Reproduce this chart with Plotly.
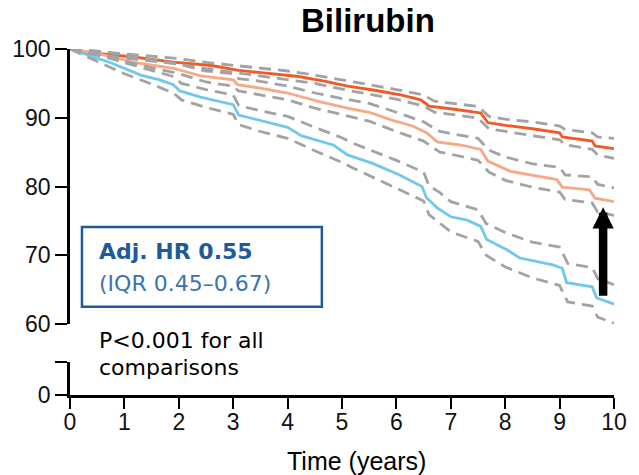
import plotly.graph_objects as go

# ---- data ----
t_high = [0, 0.3, 0.7, 1.2, 1.9, 2.6, 3.1, 3.6, 4.2, 4.7, 5.1, 5.6, 6.1, 6.45, 6.6, 7.1, 7.55, 7.68, 8.0, 8.5, 9.0, 9.05, 9.6, 9.65, 10]
s_high = [100, 99.5, 99.2, 98.8, 98.1, 97.6, 96.9, 96.5, 96.0, 95.3, 94.6, 94.0, 93.3, 92.6, 91.7, 91.2, 90.7, 89.3, 88.9, 88.4, 87.8, 87.2, 86.6, 85.9, 85.5]

t_mid = [0, 0.4, 0.8, 1.15, 1.9, 2.4, 3.0, 3.08, 3.5, 4.0, 4.6, 5.1, 5.5, 5.9, 6.3, 6.56, 6.75, 7.2, 7.55, 7.68, 8.1, 8.5, 8.95, 9.05, 9.55, 9.65, 10]
s_mid = [100, 99.5, 98.8, 98.1, 97.2, 96.1, 95.5, 94.8, 94.3, 93.6, 92.3, 91.4, 90.8, 89.7, 88.8, 87.8, 86.5, 86.0, 85.4, 83.7, 82.2, 81.6, 81.0, 79.9, 79.5, 78.3, 77.8]

t_low = [0, 0.3, 0.75, 1.3, 1.65, 1.9, 2.02, 2.4, 3.0, 3.1, 3.6, 4.0, 4.25, 4.85, 5.1, 5.55, 6.05, 6.47, 6.55, 6.75, 7.0, 7.3, 7.55, 7.66, 8.03, 8.27, 8.88, 9.05, 9.13, 9.6, 9.68, 10]
s_low = [100, 99.2, 98.0, 96.2, 95.5, 94.8, 93.9, 93.0, 91.9, 90.4, 89.4, 88.6, 87.4, 86.0, 84.6, 83.4, 81.7, 80.0, 78.4, 76.9, 75.6, 75.1, 74.2, 72.3, 70.8, 69.6, 68.6, 68.1, 66.0, 65.4, 63.8, 62.9]

# confidence bands
t_high_ci = [0, 0.5, 1, 1.5, 2, 2.5, 3, 3.5, 4, 4.5, 5, 5.5, 6, 6.5, 6.7, 7, 7.5, 7.7, 8, 8.5, 9, 9.1, 9.6, 9.7, 10]
high_up = [100, 99.6, 99.3, 98.95, 98.6, 98.05, 97.6, 97.15, 96.8, 96.2, 95.45, 94.8, 94.1, 93.3, 92.4, 92.1, 91.65, 90.2, 89.8, 89.4, 88.8, 88.3, 87.8, 87.2, 87.0]
high_lo = [100, 99.2, 98.7, 98.25, 97.8, 97.15, 96.6, 96.05, 95.6, 95.0, 94.15, 93.4, 92.7, 91.7, 90.8, 90.5, 89.95, 88.4, 88.0, 87.4, 86.8, 86.1, 85.4, 84.6, 84.1]

t_mid_ci = [0, 0.5, 1, 1.5, 2, 2.5, 3, 3.1, 3.5, 4, 4.5, 5, 5.5, 6, 6.5, 6.8, 7, 7.5, 7.7, 8, 8.5, 9, 9.1, 9.6, 9.7, 10]
mid_up = [100, 99.7, 99.1, 98.4, 97.8, 96.8, 96.4, 95.7, 95.3, 94.6, 93.6, 92.8, 92.1, 90.8, 89.4, 88.0, 87.7, 87.0, 85.3, 84.3, 83.3, 82.8, 81.7, 81.4, 80.3, 79.8]
mid_lo = [100, 99.1, 98.1, 97.2, 96.4, 95.2, 94.6, 93.9, 93.3, 92.6, 91.4, 90.4, 89.5, 88.0, 86.6, 85.0, 84.7, 83.8, 82.1, 80.9, 79.9, 79.2, 78.1, 77.6, 76.3, 75.8]

t_low_ci = [0, 0.5, 1, 1.5, 1.9, 2.05, 2.5, 3.0, 3.1, 3.5, 4, 4.5, 5, 5.2, 5.5, 6, 6.5, 6.6, 6.8, 7, 7.5, 7.65, 8, 8.5, 9, 9.15, 9.6, 9.7, 10]
low_up = [100, 99.2, 98.0, 96.9, 96.0, 95.0, 94.1, 93.3, 91.8, 91.0, 90.2, 88.6, 87.1, 86.3, 85.4, 83.8, 82.1, 80.1, 79.1, 77.8, 76.6, 74.6, 73.3, 71.9, 71.2, 68.8, 68.2, 66.6, 65.7]
low_lo = [100, 98.2, 96.4, 94.9, 93.6, 92.6, 91.5, 90.5, 89.0, 88.0, 87.0, 85.2, 83.5, 82.7, 81.6, 79.8, 77.9, 75.9, 74.7, 73.4, 72.0, 70.0, 68.3, 66.7, 65.6, 63.2, 62.6, 61.0, 60.1]

x_ticks = [0, 1, 2, 3, 4, 5, 6, 7, 8, 9, 10]
y_ticks = [60, 70, 80, 90, 100]
y2_ticks = [0, 5]
y2_labels = ["0", ""]

title_text = "<b>Bilirubin</b>"
hr_text = "<b>Adj. HR 0.55</b>"
iqr_text = "(IQR 0.45–0.67)"
p_line1 = "P<0.001 for all"
p_line2 = "comparisons"
x_title = "Time (years)"

arrow_x = 9.8
arrow_from = 63.9
arrow_to = 77.0

# ---- styles ----
C_HIGH = "#F15A22"
C_MID = "#F7A886"
C_LOW = "#72C7EC"
C_CI = "#A3A3A3"
C_BOX = "#1F5B97"
C_IQR = "#3D74AE"
TICKFONT = dict(family="Liberation Sans, Arial, sans-serif", size=23, color="#111")
TXTFONT = "DejaVu Sans, sans-serif"

fig = go.Figure()

for t, s, c in [(t_high, s_high, C_HIGH), (t_mid, s_mid, C_MID), (t_low, s_low, C_LOW)]:
    fig.add_trace(go.Scatter(x=t, y=s, mode="lines", line=dict(color=c, width=2.8),
                             xaxis="x", yaxis="y", showlegend=False, hoverinfo="skip"))

for t, s in [(t_high_ci, high_up), (t_high_ci, high_lo), (t_mid_ci, mid_up), (t_mid_ci, mid_lo),
             (t_low_ci, low_up), (t_low_ci, low_lo)]:
    fig.add_trace(go.Scatter(x=t, y=s, mode="lines",
                             line=dict(color=C_CI, width=2.8, dash="12px,7px"),
                             xaxis="x", yaxis="y", showlegend=False, hoverinfo="skip"))

# empty trace so the lower (broken) axis segment is drawn
fig.add_trace(go.Scatter(x=[None], y=[None], mode="lines", xaxis="x", yaxis="y2",
                         showlegend=False, hoverinfo="skip"))

# margins: plot area x 70..614, y 49..395
L, R, T, B = 70, 25, 49, 80
W, H = 639, 475
ph = H - T - B

def py(p):  # pixel y -> paper y
    return (H - B - p) / ph

def px(p):
    return (p - L) / (W - L - R)

fig.update_layout(
    width=W, height=H,
    margin=dict(l=L, r=R, t=T, b=B),
    paper_bgcolor="white", plot_bgcolor="white",
    showlegend=False,
    xaxis=dict(range=[0, 10], tickvals=x_ticks, anchor="y2", showgrid=False, zeroline=False,
               showline=True, linecolor="black", linewidth=2.5, ticks="outside", ticklen=11,
               tickwidth=2, tickcolor="black", tickfont=TICKFONT, ticklabelstandoff=-6),
    yaxis=dict(domain=[py(324), 1], range=[60, 100], tickvals=y_ticks, showgrid=False,
               anchor="x", zeroline=False, showline=True, linecolor="black", linewidth=2.5,
               ticks="outside", ticklen=12, tickwidth=2, tickcolor="black", tickfont=TICKFONT),
    yaxis2=dict(domain=[0, py(362)], range=[0, 5], tickvals=y2_ticks, ticktext=y2_labels,
                anchor="x", showgrid=False, zeroline=False, showline=True, linecolor="black",
                linewidth=2.5, ticks="outside", ticklen=12, tickwidth=2, tickcolor="black",
                tickfont=TICKFONT),
)

# box around HR text
fig.add_shape(type="rect", xref="x", yref="y", x0=0.22, x1=4.63, y0=62.5, y1=74.1,
              line=dict(color=C_BOX, width=2.5), fillcolor="rgba(0,0,0,0)")

ann = [
    dict(text=title_text, x=px(368), y=py(20), font=dict(family="Liberation Sans, Arial, sans-serif", size=33, color="black")),
    dict(text=hr_text, x=px(97), y=py(251), xanchor="left", font=dict(family=TXTFONT, size=22, color=C_BOX)),
    dict(text=iqr_text, x=px(97), y=py(283), xanchor="left", font=dict(family=TXTFONT, size=22, color=C_IQR)),
    dict(text=p_line1, x=px(97), y=py(340), xanchor="left", font=dict(family=TXTFONT, size=22, color="black")),
    dict(text=p_line2, x=px(97), y=py(367), xanchor="left", font=dict(family=TXTFONT, size=22, color="black")),
    dict(text=x_title, x=px(356), y=py(461), font=dict(family="Liberation Sans, Arial, sans-serif", size=25, color="black")),
]
for a in ann:
    a.setdefault("xanchor", "center")
    fig.add_annotation(xref="paper", yref="paper", yanchor="middle", showarrow=False, **a)

fig.add_annotation(x=arrow_x, y=arrow_to, ax=arrow_x, ay=arrow_from, xref="x", yref="y",
                   axref="x", ayref="y", text="", showarrow=True, arrowhead=2, arrowsize=0.5,
                   arrowwidth=8.5, arrowcolor="black", standoff=0, startstandoff=0)

fig.write_html("out.html")
